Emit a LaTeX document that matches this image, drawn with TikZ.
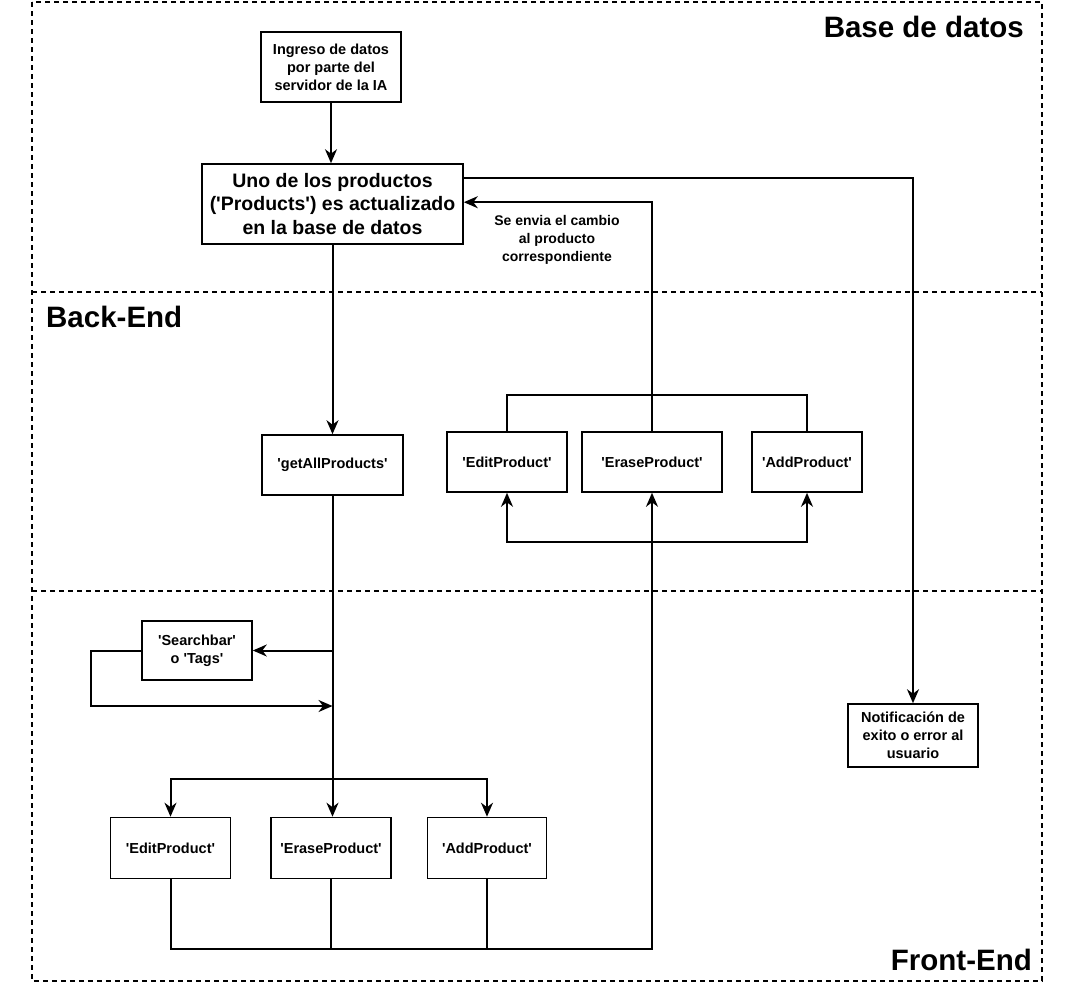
\documentclass[tikz,border=0pt]{standalone}
\usepackage{fontspec}
\setmainfont{Liberation Sans}
\usetikzlibrary{arrows.meta,calc}
\newcommand{\sq}{\textquotesingle}
\tikzset{
  box/.style={draw, line width=1.6pt, align=center, inner sep=0pt,
    font=\bfseries\fontsize{14.5}{18}\selectfont},
  conn/.style={line width=2pt},
  arr/.style={conn, -{Stealth[length=14pt,width=12pt,inset=4.5pt]}},
  lane/.style={line width=1.5pt, dash pattern=on 5pt off 4pt},
  lanelabel/.style={font=\bfseries\fontsize{29.5}{34}\selectfont, inner sep=0pt}
}
\begin{document}
\begin{tikzpicture}[x=1pt,y=-1pt]
\useasboundingbox (0,0) rectangle (1077,983);
% lanes
\draw[lane] (32,2) rectangle (1042,981);
\draw[lane] (32,292) -- (1042,292);
\draw[lane] (32,591) -- (1042,591);
\node[lanelabel, anchor=base east] (lbd) at (1024,37) {Base de datos};
\node[lanelabel, anchor=base west] (lbe) at (46,327) {Back-End};
\node[lanelabel, anchor=base east] (lfe) at (1032,970) {Front-End};
% nodes
\node[box, minimum width=140pt, minimum height=70pt] (ingreso) at (331,67) {Ingreso de datos\\por parte del\\servidor de la IA};
\node[box, minimum width=261pt, minimum height=80pt, font=\bfseries\fontsize{19.5}{23.5}\selectfont] (uno) at (332.5,204) {Uno de los productos\\(\sq Products\sq) es actualizado\\en la base de datos};
\node[box, minimum width=141pt, minimum height=60pt] (getall) at (332.5,465) {\sq getAllProducts\sq};
\node[box, minimum width=120pt, minimum height=60pt] (bedit) at (507,462) {\sq EditProduct\sq};
\node[box, minimum width=140pt, minimum height=60pt] (berase) at (652,462) {\sq EraseProduct\sq};
\node[box, minimum width=110pt, minimum height=60pt] (badd) at (807,462) {\sq AddProduct\sq};
\node[box, minimum width=110pt, minimum height=59pt] (search) at (197,650.5) {\sq Searchbar\sq\\o \sq Tags\sq};
\node[box, minimum width=130pt, minimum height=63pt] (notif) at (913,735.5) {Notificación de\\exito o error al\\usuario};
\node[box, minimum width=120pt, minimum height=61pt] (fedit) at (170.5,848) {\sq EditProduct\sq};
\node[box, minimum width=120pt, minimum height=61pt] (ferase) at (331,848) {\sq EraseProduct\sq};
\node[box, minimum width=119pt, minimum height=61pt] (fadd) at (487,848) {\sq AddProduct\sq};
\node[font=\bfseries\fontsize{14}{18}\selectfont, align=center, inner sep=0pt] (lbl) at (557,240) {Se envia el cambio\\al producto\\correspondiente};
% connectors
\draw[arr] (ingreso.south) -- (ingreso.south |- uno.north);
\draw[arr] (uno.south -| getall.north) -- (getall.north);
\draw[arr] ($(uno.north east)+(0,15)$) -| (notif.north);
\draw[arr] (berase.north) |- ($(uno.north east)+(0,39)$);
\draw[conn] (bedit.north) -- ++(0,-36) -| (badd.north);
\coordinate (bbar) at (berase.south |- 0,542);
\draw[arr] (bbar) -| (bedit.south);
\draw[arr] (bbar) -| (badd.south);
\coordinate (fc) at (berase.south |- 0,949);
\draw[arr] (fedit.south) |- (fc) -- (berase.south);
\draw[conn] (ferase.south) -- (ferase.south |- fc);
\draw[conn] (fadd.south) -- (fadd.south |- fc);
\draw[arr] (getall.south) -- (getall.south |- ferase.north);
\coordinate (fd) at (getall.south |- 0,779);
\draw[arr] (fd) -| (fedit.north);
\draw[arr] (fd) -| (fadd.north);
\coordinate (s1) at (getall.south |- search.east);
\coordinate (s2) at (getall.south |- 0,706);
\draw[arr] (s1) -- (search.east);
\draw[arr] (search.west) -- ++(-50,0) |- (s2);
\end{tikzpicture}
\end{document}
